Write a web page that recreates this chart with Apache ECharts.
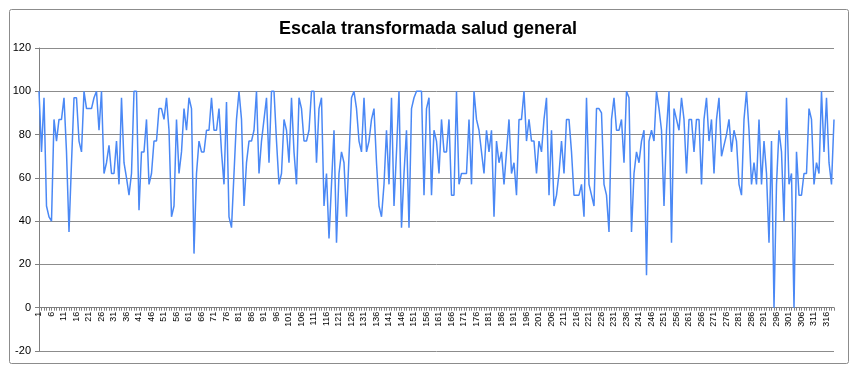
<!DOCTYPE html>
<html>
<head>
<meta charset="utf-8">
<script src="https://cdn.jsdelivr.net/npm/echarts@6/dist/echarts.min.js"></script>
<style>
html,body{margin:0;padding:0;background:#fff;}
#chart{width:856px;height:367px;}
</style>
</head>
<body>
<div id="chart"></div>
<script>
const titleText = 'Escala transformada salud general';
const yTicks = [-20, 0, 20, 40, 60, 80, 100, 120];
const values = [
100,72,97,47,42,40,87,77,87,87,97,72,35,67,97,97,77,72,100,92,
92,92,97,100,82,100,62,67,75,62,62,77,57,97,67,60,52,62,100,100,
45,72,72,87,57,62,77,77,92,92,87,97,82,42,47,87,62,72,92,82,
97,92,25,62,77,72,72,82,82,97,82,82,92,72,57,95,42,37,62,87,
100,87,47,67,77,77,82,100,62,77,87,97,67,100,100,77,57,62,87,82,
67,97,72,57,97,92,77,77,82,100,100,67,92,97,47,62,32,57,82,30,
62,72,67,42,70,97,100,92,77,72,97,72,77,87,92,67,47,42,57,82,
57,97,47,72,100,37,62,82,37,92,97,100,100,100,52,92,97,52,82,77,
62,87,72,72,87,52,52,100,57,62,62,62,87,57,100,87,82,72,62,82,
72,82,42,77,67,72,57,72,87,62,67,52,87,87,100,77,87,77,77,62,
77,72,87,97,52,82,47,52,62,77,62,87,87,72,52,52,52,57,42,97,
57,52,47,92,92,90,57,52,35,87,97,82,82,87,67,100,97,35,62,72,
67,77,82,15,77,82,77,100,92,82,47,82,100,30,92,87,82,97,87,62,
87,87,72,87,87,57,87,97,77,87,62,87,97,70,75,80,87,72,82,77,
57,52,87,100,82,57,67,57,87,57,77,62,30,77,0,57,82,72,40,97,
57,62,0,72,52,52,62,62,92,87,57,67,62,100,72,97,67,57,87
];
const categories = [];
for (let i = 1; i <= values.length; i++) categories.push(String(i));

const W = 856, H = 367;
const gridTop = 48, gridBottom = 16;
const yMin = yTicks[0], yMax = yTicks[yTicks.length - 1];
// move the category axis (line, ticks and labels) up to the value 0
const zeroOffset = -(H - gridTop - gridBottom) * (0 - yMin) / (yMax - yMin);

const chart = echarts.init(document.getElementById('chart'), null, {renderer: 'canvas'});
chart.setOption({
  animation: false,
  backgroundColor: '#ffffff',
  title: {
    text: titleText,
    left: 'center',
    top: 15,
    textStyle: {fontFamily: 'Liberation Sans, Arial', fontSize: 18, fontWeight: 'bold', color: '#000'}
  },
  graphic: [{
    type: 'rect', left: 7, top: 7, shape: {width: 839, height: 354, r: 2},
    style: {fill: 'none', stroke: '#8c8c8c', lineWidth: 1}, silent: true, z: -1
  }],
  grid: {left: 39, right: 22, top: gridTop, bottom: gridBottom, containLabel: false, outerBoundsMode: 'none'},
  xAxis: {
    type: 'category',
    data: categories,
    boundaryGap: false,
    position: 'bottom',
    offset: zeroOffset,
    axisLine: {onZero: false, lineStyle: {color: '#808080', width: 1}},
    axisTick: {show: true, interval: 0, length: 3, lineStyle: {color: '#808080'}},
    axisLabel: {interval: 4, rotate: 90, fontSize: 9, fontFamily: 'Liberation Sans, Arial', color: '#000', margin: 4}
  },
  yAxis: {
    type: 'value',
    min: yMin, max: yMax, interval: 20,
    axisLine: {show: true, lineStyle: {color: '#808080'}},
    axisTick: {show: true, length: 4, lineStyle: {color: '#808080'}},
    axisLabel: {fontSize: 11, fontFamily: 'Liberation Sans, Arial', color: '#000', margin: 8},
    splitLine: {show: true, lineStyle: {color: '#8c8c8c', width: 1}}
  },
  series: [{
    type: 'line',
    data: values,
    showSymbol: false,
    symbol: 'none',
    lineStyle: {color: '#4a88f5', width: 1.5},
    itemStyle: {color: '#4a88f5'}
  }]
});
</script>
</body>
</html>
